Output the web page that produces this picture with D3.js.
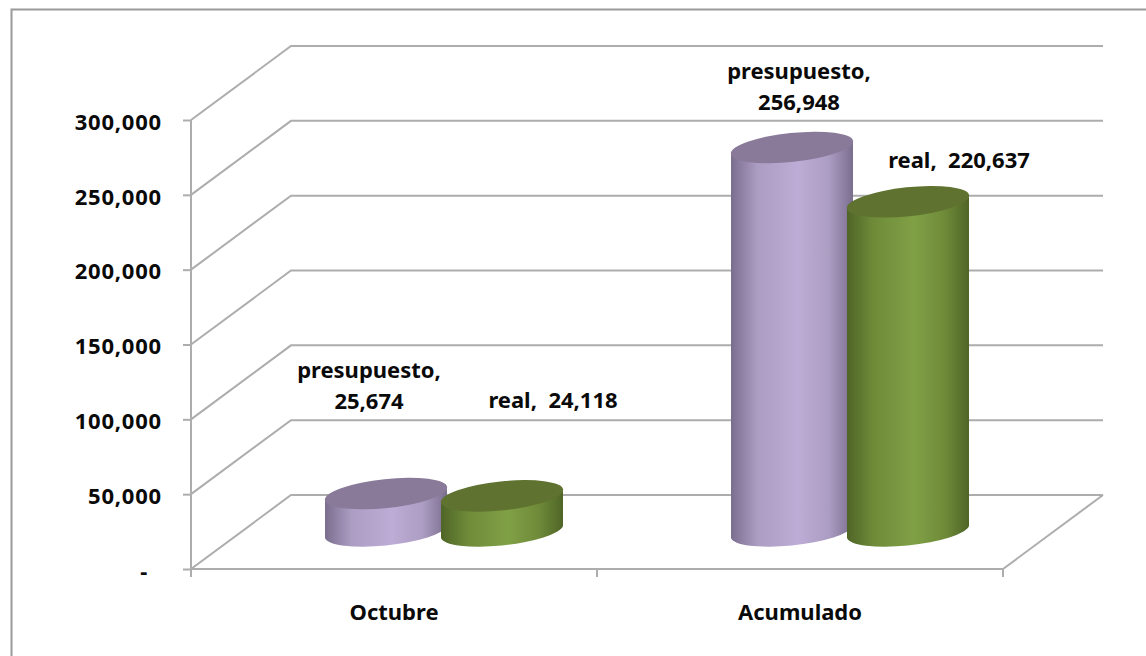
<!DOCTYPE html>
<meta charset="utf-8">
<style>
html, body { margin: 0; background: #fff; }
svg { display: block; }
text { font-family: "Noto Sans", sans-serif; font-weight: 700; font-size: 22px; fill: #0a0a0a; }
.axis path { display: none; }
.yAxis text { letter-spacing: 0.8px; }
.axis line, .grid { stroke: #adadad; stroke-width: 2px; fill: none; }
</style>
<body>
<script src="https://d3js.org/d3.v7.js"></script>
<script>

var categories = ["Octubre", "Acumulado"];
var seriesNames = ["presupuesto", "real"];
var presupuesto = [25674, 256948];
var real = [24118, 220637];
var yTicks = [0, 50000, 100000, 150000, 200000, 250000, 300000];

var width = 1146, height = 656;

// front edge of the floor, and how far the back wall is pushed by the 3d view
var x0 = 191, x1 = 1003, yBottom = 569, yTop = 120;
var depthX = 100, depthY = -74;

var svg = d3.select("body").append("svg")
    .attr("width", width)
    .attr("height", height);

var xScale = d3.scaleBand().domain(categories).range([x0, x1]);
var yScale = d3.scaleLinear().domain([0, 300000]).range([yBottom, yTop]);
var fmt = d3.format(",");

// outer border, only top and left are inside the picture
svg.append("path")
    .attr("d", "M11.5,656V9.5H1146")
    .attr("fill", "none")
    .attr("stroke", "#9a9a9a")
    .attr("stroke-width", 2);

// walls
yTicks.forEach(function(t) {
  var y = yScale(t);
  svg.append("path").attr("class", "grid")
      .attr("d", `M${x0},${y}L${x0 + depthX},${y + depthY}H${x1 + depthX}`);
});
svg.append("path").attr("class", "grid")
    .attr("d", `M${x1},${yBottom}L${x1 + depthX},${yBottom + depthY}`);
svg.append("path").attr("class", "grid")
    .attr("d", `M${x0},${yTop}V${yBottom}H${x1}`);

var yAxis = d3.axisLeft(yScale)
    .tickValues(yTicks)
    .tickSize(8)
    .tickPadding(21)
    .tickFormat(d => d === 0 ? "-" : fmt(d));

var yG = svg.append("g").attr("class", "axis yAxis")
    .attr("transform", `translate(${x0},0)`)
    .call(yAxis);

yG.selectAll("text").attr("dy", "0.42em");
yG.selectAll("text").filter(d => d === 0).attr("dx", -14);

// category ticks sit between the bands
svg.selectAll("line.catTick")
  .data([x0, x0 + xScale.bandwidth(), x1])
  .enter().append("line")
    .attr("class", "grid")
    .attr("x1", d => d).attr("x2", d => d)
    .attr("y1", yBottom).attr("y2", yBottom + 8);

var xAxis = d3.axisBottom(xScale).tickSize(0).tickPadding(35);
svg.append("g").attr("class", "axis")
    .attr("transform", `translate(0,${yBottom})`)
    .call(xAxis);

// gradients for the cylinders
var defs = svg.append("defs");
function sideGradient(id, edge, mid, light) {
  var g = defs.append("linearGradient").attr("id", id);
  g.append("stop").attr("offset", "0%").attr("stop-color", edge);
  g.append("stop").attr("offset", "22%").attr("stop-color", mid);
  g.append("stop").attr("offset", "55%").attr("stop-color", light);
  g.append("stop").attr("offset", "80%").attr("stop-color", mid);
  g.append("stop").attr("offset", "100%").attr("stop-color", edge);
}
sideGradient("sidePresupuesto", "#7a6e8e", "#ac9dc3", "#bdacd5");
sideGradient("sideReal", "#4f6527", "#6f8b39", "#80a046");

var barOffset = 58;
var series = [
  {name: seriesNames[0], values: presupuesto, side: "url(#sidePresupuesto)", top: "#8a7a99", offset: -barOffset},
  {name: seriesNames[1], values: real, side: "url(#sideReal)", top: "#5f7230", offset: barOffset}
];

function centerX(catIndex, offset) {
  return xScale(categories[catIndex]) + xScale.bandwidth() / 2 + depthX / 2 + offset;
}

// tilted ellipse of the cylinder ends
var rx = 61.5, ry = 14.5, tilt = -6, tipX = 61, tipY = 6;

function cylinder(d) {
  var cx = d.cx, yb = d.base, yt = d.y;
  return `M${cx - tipX},${yt + tipY}V${yb + tipY}` +
    `A${rx},${ry},${tilt},0,0,${cx + tipX},${yb - tipY}` +
    `V${yt - tipY}` +
    `A${rx},${ry},${tilt},0,1,${cx - tipX},${yt + tipY}Z`;
}

series.forEach(function(s) {
  var cyls = s.values.map((v, i) => ({
    cx: centerX(i, s.offset),
    base: yBottom + depthY / 2,
    y: yScale(v) + depthY / 2
  }));

  svg.selectAll(null).data(cyls).enter().append("path")
      .attr("d", cylinder)
      .attr("fill", s.side);

  svg.selectAll(null).data(cyls).enter().append("ellipse")
      .attr("rx", rx).attr("ry", ry)
      .attr("transform", d => `translate(${d.cx},${d.y}) rotate(${tilt})`)
      .attr("fill", s.top);
});

// data labels, placed relative to the top of their cylinder
var labelSpots = [
  {s: 0, cat: 0, wrap: true, dx: -17, dy: -116},
  {s: 1, cat: 0, wrap: false, dx: 51, dy: -88},
  {s: 0, cat: 1, wrap: true, dx: 7, dy: -68},
  {s: 1, cat: 1, wrap: false, dx: 51, dy: -34}
];

labelSpots.forEach(function(l) {
  var s = series[l.s];
  var v = s.values[l.cat];
  var cx = centerX(l.cat, s.offset) + l.dx;
  var lines = l.wrap ? [s.name + ",", fmt(v)] : [s.name + ",\u00a0\u00a0" + fmt(v)];
  var t = svg.append("text")
      .attr("text-anchor", "middle")
      .attr("y", yScale(v) + depthY / 2 + l.dy);
  lines.forEach(function(line, j) {
    t.append("tspan")
        .attr("x", cx)
        .attr("dy", j ? 31 : 0)
        .text(line);
  });
});

</script>
</body>
